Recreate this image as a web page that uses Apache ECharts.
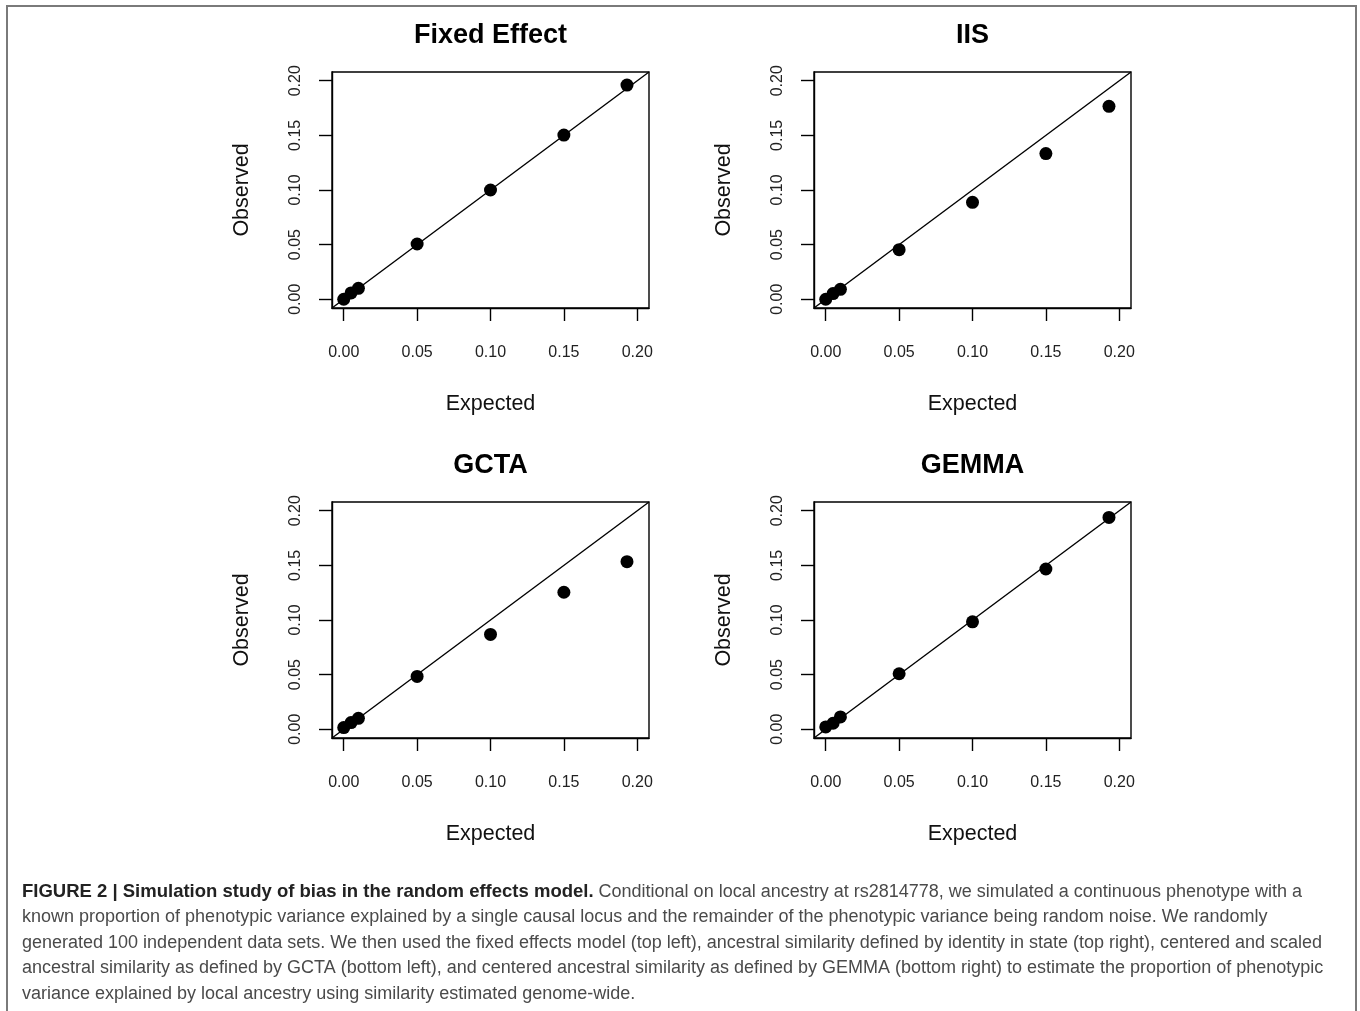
<!DOCTYPE html>
<html>
<head>
<meta charset="utf-8">
<script src="https://cdn.jsdelivr.net/npm/echarts@6/dist/echarts.min.js"></script>
<style>
  html, body { margin: 0; padding: 0; background: #fff; }
  #chart { width: 1360px; height: 1011px; }
</style>
</head>
<body>
<div id="chart"></div>
<script>
// panel names
const panelTitles = ['Fixed Effect', 'IIS', 'GCTA', 'GEMMA']

// expected h2 (x) shared by all panels
const expected = [0, 0.005, 0.01, 0.05, 0.1, 0.15, 0.193]

// observed h2 (y) per panel
const fixedEffect = [0, 0.0058, 0.01, 0.0506, 0.1, 0.1503, 0.196]
const iis = [0, 0.0052, 0.0091, 0.0454, 0.0887, 0.1333, 0.1766]
const gcta = [0.0015, 0.0061, 0.01, 0.0484, 0.0868, 0.1254, 0.1534]
const gemma = [0.0021, 0.0055, 0.0113, 0.0508, 0.0983, 0.1467, 0.1939]

const tickValues = [0, 0.05, 0.1, 0.15, 0.2]
const axisMin = -0.008
const axisMax = 0.208

const captionLines = [
  '{b|FIGURE 2 | Simulation study of bias in the random effects model.} Conditional on local ancestry at rs2814778, we simulated a continuous phenotype with a',
  'known proportion of phenotypic variance explained by a single causal locus and the remainder of the phenotypic variance being random noise. We randomly',
  'generated 100 independent data sets. We then used the fixed effects model (top left), ancestral similarity defined by identity in state (top right), centered and scaled',
  'ancestral similarity as defined by GCTA (bottom left), and centered ancestral similarity as defined by GEMMA (bottom right) to estimate the proportion of phenotypic',
  'variance explained by local ancestry using similarity estimated genome-wide.'
]

const observed = [fixedEffect, iis, gcta, gemma]

// plot box layout
const boxLeft = [332, 814]
const boxTop = [72, 502]
const boxW = 317
const boxH = 236

const font = '"Liberation Sans", Arial, sans-serif'

const chart = echarts.init(document.getElementById('chart'), null, { renderer: 'canvas' })

const grids = [], xAxes = [], yAxes = [], series = [], titles = []

observed.forEach((obs, i) => {
  const col = i % 2
  const row = Math.floor(i / 2)
  const left = boxLeft[col]
  const top = boxTop[row]

  grids.push({
    left: left, top: top, width: boxW, height: boxH,
    show: true, borderColor: '#000', borderWidth: 1.4, backgroundColor: 'transparent'
  })

  titles.push({
    text: panelTitles[i],
    left: left + boxW / 2 - 5,
    top: top - 55,
    textAlign: 'center',
    textStyle: { fontFamily: font, fontSize: 27, fontWeight: 'bold', color: '#000' }
  })

  xAxes.push({
    gridIndex: i, type: 'value', min: axisMin, max: axisMax,
    name: 'Expected', nameLocation: 'middle', nameGap: 85,
    nameTextStyle: { fontFamily: font, fontSize: 21.5, color: '#111' },
    axisLine: { show: true, onZero: false, lineStyle: { color: '#000', width: 1.4 } },
    axisTick: { show: true, inside: false, length: 13, customValues: tickValues, lineStyle: { color: '#000', width: 1.4 } },
    axisLabel: {
      customValues: tickValues, margin: 37,
      fontFamily: font, fontSize: 16, color: '#222',
      formatter: v => v.toFixed(2)
    },
    splitLine: { show: false }
  })

  yAxes.push({
    gridIndex: i, type: 'value', min: axisMin, max: axisMax,
    name: 'Observed', nameLocation: 'middle', nameGap: 79,
    nameTextStyle: { fontFamily: font, fontSize: 21.5, color: '#111' },
    axisLine: { show: true, onZero: false, lineStyle: { color: '#000', width: 1.4 } },
    axisTick: { show: true, inside: false, length: 13, customValues: tickValues, lineStyle: { color: '#000', width: 1.4 } },
    axisLabel: {
      customValues: tickValues, margin: 28, rotate: 90,
      fontFamily: font, fontSize: 16, color: '#222',
      formatter: v => v.toFixed(2)
    },
    splitLine: { show: false }
  })

  series.push({
    type: 'scatter',
    xAxisIndex: i, yAxisIndex: i,
    symbol: 'circle', symbolSize: 13,
    itemStyle: { color: '#000', opacity: 1 },
    data: expected.map((x, k) => [x, obs[k]]),
    markLine: {
      silent: true, symbol: 'none', animation: false,
      label: { show: false },
      lineStyle: { color: '#000', width: 1.4, type: 'solid' },
      data: [[{ coord: [axisMin, axisMin] }, { coord: [axisMax, axisMax] }]]
    }
  })
})

chart.setOption({
  animation: false,
  backgroundColor: '#fff',
  title: titles,
  grid: grids,
  xAxis: xAxes,
  yAxis: yAxes,
  series: series,
  graphic: [
    {
      type: 'rect', silent: true,
      shape: { x: 7, y: 6, width: 1349, height: 1030 },
      style: { fill: 'none', stroke: '#7a7a7a', lineWidth: 2 }
    },
    {
      type: 'text', left: 22, top: 879,
      style: {
        text: captionLines.join('\n'),
        fontFamily: font, fontSize: 18, lineHeight: 25.5,
        fill: '#4a4a4a',
        rich: {
          b: { fontFamily: font, fontSize: 18.5, fontWeight: 'bold', fill: '#222', lineHeight: 25.5 }
        }
      }
    }
  ]
})
</script>
</body>
</html>
